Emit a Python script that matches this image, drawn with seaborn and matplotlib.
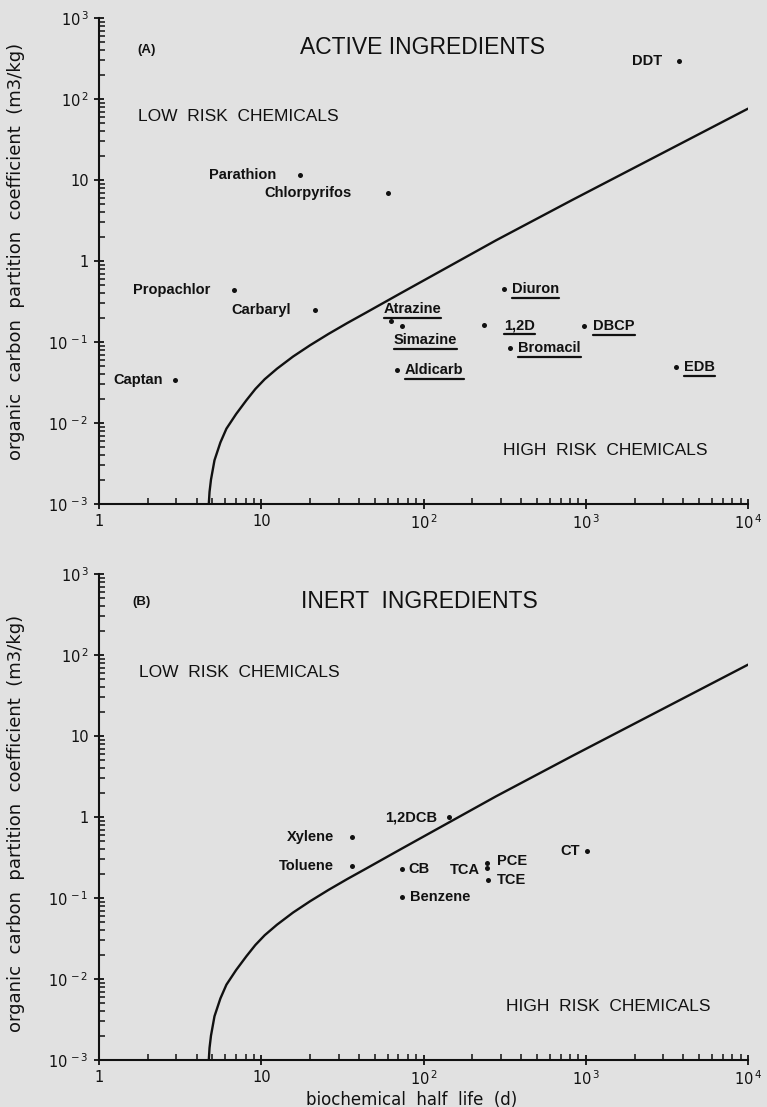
import matplotlib
matplotlib.use("Agg")
import matplotlib.pyplot as plt
import seaborn as sns
import pandas as pd
from matplotlib.lines import Line2D
from matplotlib.ticker import FixedLocator, FixedFormatter, LogLocator, NullFormatter

# ---------------- data ----------------
active_names = ["DDT", "Parathion", "Chlorpyrifos", "Propachlor", "Carbaryl", "Captan",
                "Atrazine", "Simazine", "Aldicarb", "Diuron", "1,2D", "Bromacil", "DBCP", "EDB"]
active_half_life = [3750, 17.3, 60, 6.8, 21.4, 2.94, 62.7, 73.3, 68.3, 313, 237, 341, 978, 3575]
active_koc = [295, 11.5, 6.85, 0.44, 0.25, 0.034, 0.18, 0.158, 0.045, 0.447, 0.162, 0.0835, 0.158, 0.049]
active_underlined = [False, False, False, False, False, False,
                     True, True, True, True, True, True, True, True]

inert_names = ["1,2DCB", "Xylene", "Toluene", "CB", "Benzene", "TCA", "PCE", "TCE", "CT"]
inert_half_life = [143, 36.4, 36.4, 73.3, 73.3, 248, 248, 250, 1011]
inert_koc = [1.0, 0.56, 0.248, 0.226, 0.102, 0.233, 0.273, 0.167, 0.384]

boundary_half_life = [4.75, 4.8, 4.9, 5.15, 5.6, 6.1, 7.0, 8.1, 9.2, 10.5, 12.5, 15.7, 20, 26, 34,
                      44, 72, 280, 830, 10000]
boundary_koc = [0.001, 0.00141, 0.002, 0.00347, 0.00575, 0.00851, 0.0129, 0.0191, 0.0263, 0.0347,
                0.0468, 0.0661, 0.0912, 0.126, 0.172, 0.229, 0.398, 1.8, 5.7, 76]

x_ticks = [1, 10, 100, 1000, 10000]
x_tick_labels = ["1", "10", r"$10^{\,2}$", r"$10^{\,3}$", r"$10^{\,4}$"]
y_ticks = [1e-3, 1e-2, 1e-1, 1, 10, 100, 1000]
y_tick_labels = [r"$10^{\,-3}$", r"$10^{\,-2}$", r"$10^{\,-1}$", "1", "10", r"$10^{\,2}$", r"$10^{\,3}$"]

# ---------------- label placement (styles, in points) ----------------
active_label_style = [("right", -12, 0), ("right", -17, 0), ("right", -26, 0), ("right", -17, 0),
                      ("right", -17, 0), ("right", -9, 0), ("left", -5, 9), ("left", -5.5, -10.5),
                      ("left", 6, 0), ("left", 6, 0), ("left", 14, 0), ("left", 6, 0),
                      ("left", 6.5, 0), ("left", 6, 0)]
inert_label_style = [("right", -8, 0), ("right", -13, 0), ("right", -13.5, 0), ("left", 5, 0),
                     ("left", 6, 0), ("right", -5.5, -1), ("left", 6.5, 1), ("left", 6, 0),
                     ("right", -5, 0)]

BG = "#e1e1e1"
INK = "#111111"
HEAD = ["Liberation Sans", "DejaVu Sans"]

sns.set_theme(style="ticks")
plt.rcParams["font.family"] = ["DejaVu Sans"]
plt.rcParams["mathtext.fontset"] = "dejavusans"
plt.rcParams["text.color"] = INK
plt.rcParams["axes.edgecolor"] = INK
plt.rcParams["xtick.color"] = INK
plt.rcParams["ytick.color"] = INK

fig = plt.figure(figsize=(7.67, 11.07), dpi=100, facecolor=BG)
ax_top = fig.add_axes([99 / 767, 1 - 504 / 1107, 649 / 767, 486 / 1107])
ax_bot = fig.add_axes([99 / 767, 1 - 1060 / 1107, 649 / 767, 486 / 1107])

boundary = pd.DataFrame({"t": boundary_half_life, "k": boundary_koc})
label_font = dict(family=HEAD, fontweight="bold", fontsize=10.5)
underlined_texts = []
YLABEL = "organic  carbon  partition  coefficient  (m3/kg)"


def setup(ax):
    ax.set_facecolor(BG)
    ax.set_xscale("log")
    ax.set_yscale("log")


def finish(ax):
    ax.set_xlim(1, 1e4)
    ax.set_ylim(1e-3, 1e3)
    for s in ("top", "right"):
        ax.spines[s].set_visible(False)
    for s in ("left", "bottom"):
        ax.spines[s].set_linewidth(1.5)
    ax.xaxis.set_major_locator(FixedLocator(x_ticks))
    ax.xaxis.set_major_formatter(FixedFormatter(x_tick_labels))
    ax.yaxis.set_major_locator(FixedLocator(y_ticks))
    ax.yaxis.set_major_formatter(FixedFormatter(y_tick_labels))
    for axis in (ax.xaxis, ax.yaxis):
        axis.set_minor_locator(LogLocator(base=10, subs=range(2, 10), numticks=20))
        axis.set_minor_formatter(NullFormatter())
    ax.tick_params(which="major", direction="inout", length=7, width=1.3, labelsize=10.5, pad=4)
    ax.tick_params(which="minor", direction="in", length=4, width=1.1)
    ax.tick_params(axis="x", which="major", pad=3.5)
    ax.set_xlabel("")
    ax.set_ylabel(YLABEL, fontsize=13, color=INK)


def draw_panel(ax, names, half_life, koc, styles, underlined):
    sns.lineplot(data=boundary, x="t", y="k", sort=False, estimator=None, color=INK,
                 linewidth=1.7, ax=ax)
    sns.scatterplot(x=half_life, y=koc, color=INK, s=13, linewidth=0, ax=ax, zorder=3)
    for name, t, k, (ha, dx, dy), ul in zip(names, half_life, koc, styles, underlined):
        txt = ax.annotate(name, (t, k), xytext=(dx, dy), textcoords="offset points",
                          ha=ha, va="center", color=INK, **label_font)
        if ul:
            underlined_texts.append(txt)


setup(ax_top)
setup(ax_bot)
draw_panel(ax_top, active_names, active_half_life, active_koc, active_label_style, active_underlined)
draw_panel(ax_bot, inert_names, inert_half_life, inert_koc, inert_label_style, [False] * len(inert_names))
finish(ax_top)
finish(ax_bot)

# panel texts
ax_top.text(0.059, 0.934, "(A)", transform=ax_top.transAxes, family=HEAD, fontsize=9.5,
            fontweight="bold", va="center")
ax_top.text(0.310, 0.940, "ACTIVE INGREDIENTS", transform=ax_top.transAxes, family=HEAD,
            fontsize=16.5, va="center")
ax_top.text(0.060, 0.798, "LOW  RISK  CHEMICALS", transform=ax_top.transAxes, family=HEAD,
            fontsize=12.5, va="center")
ax_top.text(0.6225, 0.110, "HIGH  RISK  CHEMICALS", transform=ax_top.transAxes, family=HEAD,
            fontsize=12.5, va="center")

ax_bot.text(0.052, 0.943, "(B)", transform=ax_bot.transAxes, family=HEAD, fontsize=9.5,
            fontweight="bold", va="center")
ax_bot.text(0.311, 0.943, "INERT  INGREDIENTS", transform=ax_bot.transAxes, family=HEAD,
            fontsize=16.5, va="center")
ax_bot.text(0.0616, 0.797, "LOW  RISK  CHEMICALS", transform=ax_bot.transAxes, family=HEAD,
            fontsize=12.5, va="center")
ax_bot.text(0.627, 0.110, "HIGH  RISK  CHEMICALS", transform=ax_bot.transAxes, family=HEAD,
            fontsize=12.5, va="center")

ax_top.yaxis.set_label_coords(-0.114, 0.52)
ax_bot.yaxis.set_label_coords(-0.114, 0.487)
ax_bot.set_xlabel("biochemical  half  life  (d)", fontsize=12, color=INK)
ax_bot.xaxis.set_label_coords(0.481, -0.082)
ax_bot.xaxis.label.set_va("center")

# underline labels of chemicals marked in the reference
fig.canvas.draw()
renderer = fig.canvas.get_renderer()
inv = fig.transFigure.inverted()
for txt in underlined_texts:
    bb = txt.get_window_extent(renderer)
    (x0, y0), (x1, _) = inv.transform([(bb.x0, bb.y0 - 2.0), (bb.x1, bb.y0 - 2.0)])
    fig.add_artist(Line2D([x0, x1], [y0, y0], transform=fig.transFigure, color=INK, linewidth=1.6))

fig.savefig("out.png", dpi=100, facecolor=BG)
